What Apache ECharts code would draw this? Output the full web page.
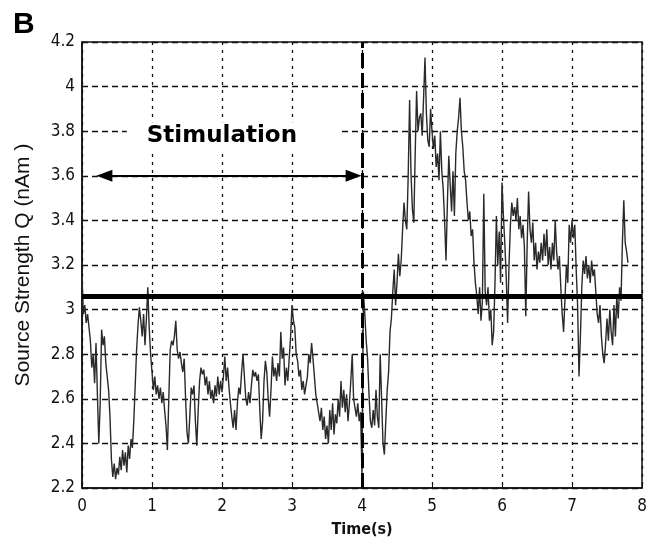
<!DOCTYPE html>
<html>
<head>
    <meta charset="UTF-8">
    <title>Source Strength Q</title>
    <script src="https://cdn.jsdelivr.net/npm/echarts@6/dist/echarts.min.js"></script>
</head>
<body style="margin: 0; background: #fff">
    <div id="container" style="width: 664px; height: 543px"></div>

    <script type="text/javascript">
        // sample spacing of the trace, seconds
        var sampleStep = 0.02;
        // source strength Q (nAm), one value every 0.02 s from 0 to 7.8 s
        var strength = [
            3.15, 2.98, 3.02, 2.94, 2.98, 2.92, 2.86, 2.74, 2.80, 2.67,
            2.85, 2.62, 2.40, 2.58, 2.91, 2.84, 2.88, 2.76, 2.70, 2.64,
            2.52, 2.33, 2.25, 2.31, 2.24, 2.29, 2.26, 2.34, 2.28, 2.37,
            2.30, 2.36, 2.27, 2.39, 2.33, 2.42, 2.38, 2.50, 2.66, 2.82,
            2.93, 3.01, 2.95, 2.88, 2.98, 2.84, 2.96, 3.10, 2.92, 2.80,
            2.72, 2.64, 2.70, 2.62, 2.66, 2.60, 2.65, 2.58, 2.63, 2.55,
            2.48, 2.37, 2.60, 2.82, 2.86, 2.84, 2.88, 2.95, 2.82, 2.78,
            2.81, 2.76, 2.72, 2.78, 2.60, 2.45, 2.40, 2.52, 2.65, 2.62,
            2.66, 2.50, 2.39, 2.55, 2.68, 2.74, 2.71, 2.73, 2.66, 2.70,
            2.62, 2.68, 2.60, 2.64, 2.58, 2.66, 2.61, 2.70, 2.62, 2.68,
            2.63, 2.70, 2.79, 2.68, 2.74, 2.65, 2.58, 2.52, 2.47, 2.55,
            2.46, 2.58, 2.65, 2.62, 2.72, 2.80, 2.70, 2.60, 2.57, 2.63,
            2.58, 2.66, 2.73, 2.70, 2.72, 2.68, 2.71, 2.55, 2.42, 2.50,
            2.68, 2.77, 2.72, 2.60, 2.52, 2.64, 2.79, 2.70, 2.74, 2.68,
            2.76, 2.70, 2.90, 2.78, 2.83, 2.66, 2.74, 2.68, 2.78, 2.88,
            3.02, 2.95, 2.92, 2.80, 2.77, 2.70, 2.73, 2.64, 2.68, 2.62,
            2.66, 2.70, 2.80, 2.76, 2.85, 2.78, 2.70, 2.62, 2.58, 2.54,
            2.50, 2.56, 2.46, 2.52, 2.42, 2.48, 2.40, 2.55, 2.46, 2.58,
            2.44, 2.53, 2.49, 2.60, 2.52, 2.68, 2.56, 2.64, 2.54, 2.62,
            2.50, 2.58, 2.68, 2.80, 2.60, 2.56, 2.52, 2.58, 2.50, 2.54,
            2.26, 3.08, 2.98, 2.86, 2.78, 2.62, 2.50, 2.47, 2.55, 2.48,
            2.64, 2.52, 2.47, 2.80, 2.60, 2.40, 2.35, 2.50, 2.64, 2.72,
            2.90, 2.96, 3.08, 3.18, 3.02, 3.12, 3.25, 3.15, 3.22, 3.36,
            3.48, 3.40, 3.36, 3.60, 3.94, 3.61, 3.45, 3.39, 3.70, 3.98,
            3.80, 3.86, 3.88, 3.78, 3.95, 4.13, 3.88, 3.76, 3.73, 3.90,
            3.80, 3.72, 3.78, 3.64, 3.70, 3.58, 3.80, 3.62, 3.54, 3.40,
            3.22, 3.48, 3.69, 3.56, 3.44, 3.62, 3.42, 3.70, 3.80, 3.86,
            3.95, 3.80, 3.73, 3.62, 3.58, 3.48, 3.40, 3.44, 3.33, 3.36,
            3.21, 3.12, 3.06, 2.98, 3.10, 2.95, 3.04, 3.52, 3.08, 3.02,
            3.10, 2.95, 3.00, 2.84, 2.90, 3.12, 3.42, 3.20, 3.35, 3.12,
            3.57, 3.42, 3.30, 3.15, 2.94, 3.20, 3.38, 3.48, 3.42, 3.46,
            3.40, 3.50, 3.36, 3.42, 3.32, 3.38, 3.28, 2.97, 3.30, 3.53,
            3.36, 3.30, 3.39, 3.22, 3.30, 3.18, 3.26, 3.21, 3.30, 3.22,
            3.34, 3.24, 3.36, 3.20, 3.28, 3.18, 3.30, 3.22, 3.40, 3.26,
            3.18, 3.24, 3.10, 2.98, 2.90, 3.05, 3.20, 3.12, 3.38, 3.30,
            3.40, 3.32, 3.38, 3.18, 3.02, 2.70, 2.88, 3.10, 3.22, 3.16,
            3.24, 3.14, 3.20, 3.12, 3.22, 3.15, 3.18, 3.08, 2.98, 2.94,
            3.02, 2.88, 2.80, 2.76, 2.85, 2.96, 2.86, 3.00, 2.90, 2.84,
            3.02, 2.88, 3.06, 2.96, 3.10, 3.04, 3.30, 3.49, 3.30, 3.26,
            3.21
        ];

        var baselineLevel = 3.06;     // thick horizontal reference
        var stimulationEnd = 4;       // dashed vertical marker (s)
        var arrowSpan = [0.32, 3.88]; // double arrow, seconds (symbol centres)
        var arrowLevel = 3.6;
        var labelAt = [2.17, 3.78];
        var labelText = 'Stimulation';

        var condensed = '"Liberation Sans Narrow", "DejaVu Sans Condensed", "Liberation Sans", sans-serif';

        var trace = strength.map(function (v, i) {
            return [+(i * sampleStep).toFixed(2), v];
        });

        var myChart = echarts.init(document.getElementById('container'));

        var option = {
            animation: false,
            backgroundColor: '#fff',
            grid: {
                left: 82,
                right: 22,
                top: 42,
                bottom: 54,
                show: true,
                borderColor: '#111',
                borderWidth: 1.5,
                backgroundColor: '#fff'
            },
            graphic: [{
                type: 'text',
                left: 13,
                top: 10,
                style: {
                    text: 'B',
                    font: 'bold 30px "Liberation Sans", Arial, sans-serif',
                    fill: '#000'
                }
            }],
            xAxis: {
                type: 'value',
                min: 0,
                max: 8,
                interval: 1,
                name: 'Time(s)',
                nameLocation: 'middle',
                nameGap: 34,
                nameTextStyle: {
                    fontFamily: condensed,
                    fontSize: 16,
                    fontWeight: 'bold',
                    color: '#111'
                },
                axisLine: { show: true, lineStyle: { color: '#111', width: 1.5 } },
                axisTick: { show: true, inside: true, length: 5, lineStyle: { color: '#111' } },
                axisLabel: {
                    fontFamily: condensed,
                    fontSize: 17,
                    color: '#111',
                    margin: 10
                },
                splitLine: {
                    show: true,
                    lineStyle: { color: '#111', width: 1.3, type: [3, 5] }
                }
            },
            yAxis: {
                type: 'value',
                min: 2.2,
                max: 4.2,
                interval: 0.2,
                name: 'Source Strength Q (nAm )',
                nameLocation: 'middle',
                nameGap: 48,
                nameTextStyle: {
                    fontFamily: '"Liberation Sans", Arial, sans-serif',
                    fontSize: 21,
                    color: '#111'
                },
                axisLine: { show: true, lineStyle: { color: '#111', width: 1.5 } },
                axisTick: { show: true, inside: true, length: 5, lineStyle: { color: '#111' } },
                axisLabel: {
                    fontFamily: condensed,
                    fontSize: 17,
                    color: '#111',
                    margin: 7,
                    formatter: function (v) {
                        return String(+v.toFixed(1));
                    }
                },
                splitLine: {
                    show: true,
                    lineStyle: { color: '#111', width: 1.3, type: [6, 4] }
                }
            },
            series: [{
                // the recorded trace
                type: 'line',
                data: trace,
                symbol: 'none',
                lineStyle: { color: '#2a2a2a', width: 1.4 },
                z: 3
            }, {
                // stimulation end marker
                type: 'line',
                data: [],
                z: 4,
                markLine: {
                    silent: true,
                    symbol: 'none',
                    label: { show: false },
                    lineStyle: { color: '#000', width: 3, type: [15, 5] },
                    data: [{ xAxis: stimulationEnd }]
                }
            }, {
                // baseline level
                type: 'line',
                data: [],
                z: 5,
                markLine: {
                    silent: true,
                    symbol: 'none',
                    label: { show: false },
                    lineStyle: { color: '#000', width: 5, type: 'solid' },
                    data: [{ yAxis: baselineLevel }]
                }
            }, {
                // stimulation span arrow
                type: 'line',
                data: [],
                z: 6,
                markLine: {
                    silent: true,
                    symbol: ['triangle', 'triangle'],
                    symbolSize: [12, 16],
                    label: { show: false },
                    lineStyle: { color: '#000', width: 2, type: 'solid' },
                    data: [[{ coord: [arrowSpan[0], arrowLevel] }, { coord: [arrowSpan[1], arrowLevel] }]]
                }
            }, {
                // stimulation label
                type: 'scatter',
                data: [labelAt],
                symbol: 'rect',
                symbolSize: 1,
                silent: true,
                z: 7,
                itemStyle: { color: '#fff', opacity: 1 },
                label: {
                    show: true,
                    position: 'inside',
                    formatter: labelText,
                    fontFamily: '"DejaVu Sans", sans-serif',
                    fontWeight: 'bold',
                    fontSize: 23,
                    color: '#000',
                    backgroundColor: '#fff',
                    padding: [2, 44, 2, 20]
                }
            }]
        };

        myChart.setOption(option);
    </script>
</body>
</html>
